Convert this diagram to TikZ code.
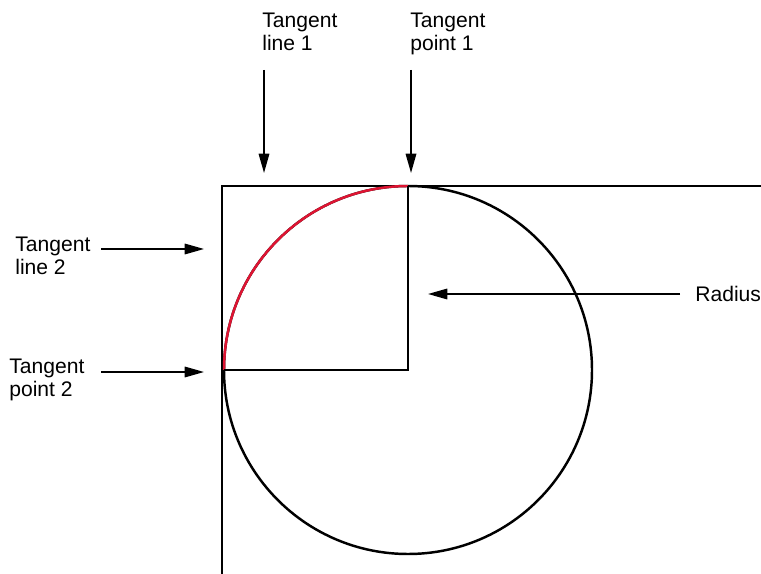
\documentclass[tikz,border=0pt]{standalone}
\usepackage{fontspec}
\setmainfont{Liberation Sans}
\usetikzlibrary{arrows.meta}
\definecolor{arcred}{RGB}{222,20,50}

\begin{document}
\begin{tikzpicture}[
    x=0.02cm, y=-0.02cm,
    txt/.style={anchor=north west, align=left, inner sep=0pt,
        font=\fontsize{12}{13}\selectfont},
    edge/.style={line width=1.4pt},
    arr/.style={-{Triangle[length=11pt, width=6pt]}, line width=0.9pt}
]
\useasboundingbox (0,0) rectangle (761,574);

% --- Tangent lines ---
\coordinate (corner) at (222,186);
\draw[edge] (761,186) -- (corner) -- (222,574);

% --- Circle, red quarter, radius ---
\coordinate (ctr) at (408,370);
\coordinate (tp1) at (408,186);
\coordinate (tp2) at (224,370);
\draw[edge] (ctr) circle[radius=184];
\draw[edge, arcred] (tp2) arc[start angle=180, end angle=270, radius=184];
\draw[edge] (tp1) -- (ctr) -- (tp2);

% --- Labels ---
\node[txt] (tl1) at (262,13) {Tangent\\line 1};
\node[txt] (tpt1) at (410,13) {Tangent\\point 1};
\node[txt] (tl2) at (15,237) {Tangent\\line 2};
\node[txt] (tpt2) at (9,359) {Tangent\\point 2};
\node[txt, anchor=west] (rad) at (695,294) {Radius};

% --- Arrow ends ---
\coordinate (a1s) at (264,70);  \coordinate (a1e) at (264,173);
\coordinate (a2s) at (411,70);  \coordinate (a2e) at (411,173);
\coordinate (a3s) at (101,249); \coordinate (a3e) at (204,249);
\coordinate (a4s) at (101,372); \coordinate (a4e) at (204,372);
\coordinate (a5s) at (680,294); \coordinate (a5e) at (428,294);

% --- Arrows ---
\draw[arr] (a1s) -- (a1e);
\draw[arr] (a2s) -- (a2e);
\draw[arr] (a3s) -- (a3e);
\draw[arr] (a4s) -- (a4e);
\draw[arr] (a5s) -- (a5e);

\end{tikzpicture}
\end{document}
